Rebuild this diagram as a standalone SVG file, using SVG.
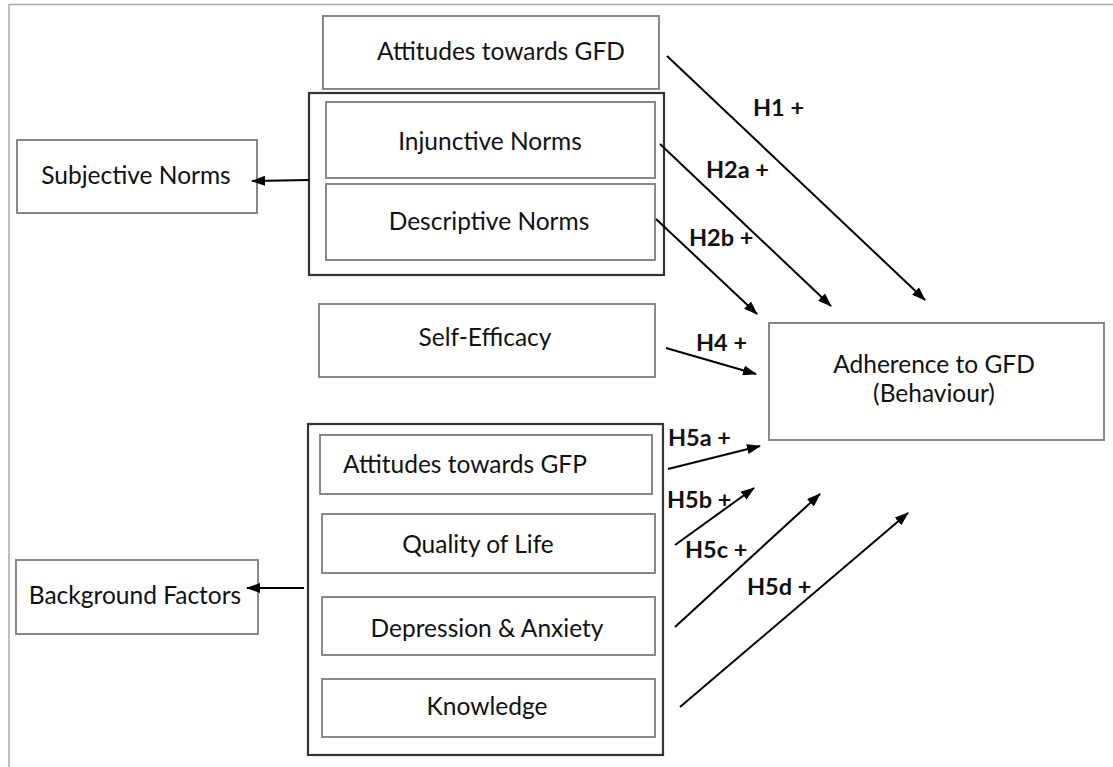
<svg xmlns="http://www.w3.org/2000/svg" width="1113" height="767" viewBox="0 0 1113 767">
  <defs>
    <marker id="arrow" viewBox="0 0 14 10" refX="13" refY="5" markerWidth="14" markerHeight="10" markerUnits="userSpaceOnUse" orient="auto">
      <path d="M0,0 L14,5 L0,10 Z" fill="#000"/>
    </marker>
    <style>
      .box { fill: #fff; stroke: #888; stroke-width: 2; }
      .group { fill: none; stroke: #333; stroke-width: 2.2; }
      .label { font-family: Lato, "Liberation Sans", sans-serif; font-size: 24.5px; fill: #111; text-anchor: middle; }
      .hyp { font-family: Lato, "Liberation Sans", sans-serif; font-size: 23.5px; font-weight: bold; fill: #111; }
      .conn { stroke: #000; stroke-width: 2; fill: none; marker-end: url(#arrow); }
    </style>
  </defs>

  <rect width="1113" height="767" fill="#fff"/>
  <!-- page frame -->
  <path d="M9,767 L9,4.5 L1113,4.5" fill="none" stroke="#aaa" stroke-width="1.5"/>

  <g id="attitudes-gfd">
    <rect class="box" x="323" y="16" width="336" height="73"/>
    <text class="label" x="501" y="60">Attitudes towards GFD</text>
  </g>

  <g id="norms-group">
    <rect class="group" x="309" y="93" width="355" height="182"/>
  </g>
  <g id="injunctive-norms">
    <rect class="box" x="326" y="102" width="329" height="76"/>
    <text class="label" x="490" y="150">Injunctive Norms</text>
  </g>
  <g id="descriptive-norms">
    <rect class="box" x="326" y="184" width="329" height="76"/>
    <text class="label" x="489" y="230">Descriptive Norms</text>
  </g>

  <g id="subjective-norms">
    <rect class="box" x="17" y="140" width="240" height="73"/>
    <text class="label" x="136" y="184">Subjective Norms</text>
  </g>

  <g id="self-efficacy">
    <rect class="box" x="319" y="304" width="336" height="73"/>
    <text class="label" x="485" y="346">Self-Efficacy</text>
  </g>

  <g id="adherence">
    <rect class="box" x="769" y="323" width="335" height="117"/>
    <text class="label" x="934" y="373">Adherence to GFD</text>
    <text class="label" x="934" y="402">(Behaviour)</text>
  </g>

  <g id="background-group">
    <rect class="group" x="308" y="424" width="355" height="331"/>
  </g>
  <g id="attitudes-gfp">
    <rect class="box" x="320" y="435" width="332" height="59"/>
    <text class="label" x="465" y="473">Attitudes towards GFP</text>
  </g>
  <g id="quality-of-life">
    <rect class="box" x="322" y="514" width="333" height="59"/>
    <text class="label" x="478" y="553">Quality of Life</text>
  </g>
  <g id="depression-anxiety">
    <rect class="box" x="322" y="597" width="333" height="58"/>
    <text class="label" x="487" y="637">Depression &amp; Anxiety</text>
  </g>
  <g id="knowledge">
    <rect class="box" x="322" y="679" width="333" height="58"/>
    <text class="label" x="487" y="715">Knowledge</text>
  </g>

  <g id="background-factors">
    <rect class="box" x="16" y="560" width="242" height="74"/>
    <text class="label" x="135" y="604">Background Factors</text>
  </g>

  <g id="connectors">
    <line class="conn" x1="309" y1="180" x2="252" y2="181"/>
    <line class="conn" x1="304" y1="588" x2="247" y2="588"/>
    <line class="conn" x1="667" y1="56" x2="925" y2="300"/>
    <line class="conn" x1="660" y1="144" x2="831" y2="306"/>
    <line class="conn" x1="656" y1="219" x2="757" y2="314"/>
    <line class="conn" x1="666" y1="348" x2="756" y2="374"/>
    <line class="conn" x1="668" y1="469" x2="760" y2="446"/>
    <line class="conn" x1="675" y1="545" x2="754" y2="488"/>
    <line class="conn" x1="675" y1="627" x2="820" y2="494"/>
    <line class="conn" x1="680" y1="707" x2="908" y2="513"/>
  </g>

  <g id="hypothesis-labels">
    <text class="hyp" x="753" y="116">H1 +</text>
    <text class="hyp" x="706" y="178">H2a +</text>
    <text class="hyp" x="689" y="246">H2b +</text>
    <text class="hyp" x="696" y="351">H4 +</text>
    <text class="hyp" x="668" y="446">H5a +</text>
    <text class="hyp" x="667" y="508">H5b +</text>
    <text class="hyp" x="685" y="558">H5c +</text>
    <text class="hyp" x="747" y="595">H5d +</text>
  </g>
</svg>
